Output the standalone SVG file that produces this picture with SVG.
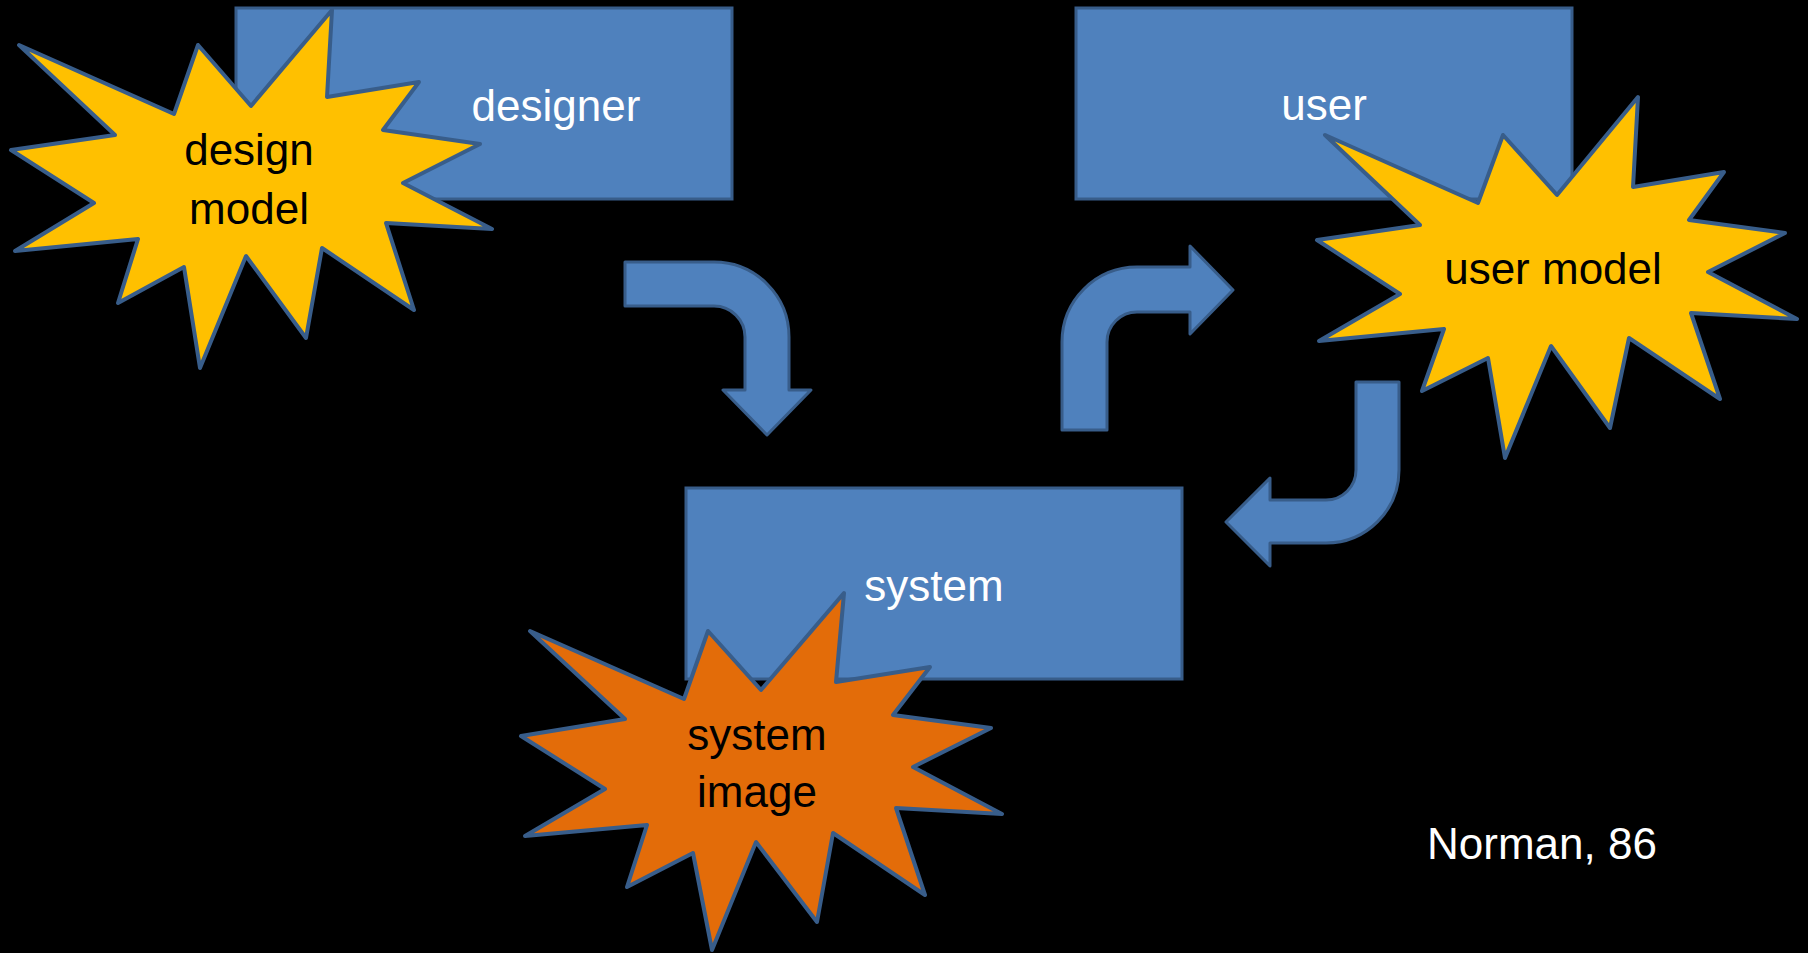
<svg xmlns="http://www.w3.org/2000/svg" width="1808" height="953" viewBox="0 0 1808 953">
  <style>
    .box { fill: #4F81BD; stroke: #385D8A; stroke-width: 3; }
    .arrow { fill: #4F81BD; stroke: #385D8A; stroke-width: 3; stroke-linejoin: round; }
    .burst { stroke: #385D8A; stroke-width: 4; stroke-linejoin: round; }
    .yellow { fill: #FFC000; }
    .orange { fill: #E36C09; }
    text { font-family: "Liberation Sans", Arial, sans-serif; font-size: 44px; text-anchor: middle; }
    .light { fill: #FFFFFF; }
    .dark { fill: #000000; }
  </style>
  <rect x="0" y="0" width="1808" height="953" fill="#000000"/>

  <!-- connectors: bent block arrows -->
  <g id="connectors">
    <path id="arrow-designer-system" class="arrow" d="M 625 262 L 714 262 A 75 75 0 0 1 789 337 L 789 390 L 811 390 L 767 435 L 723 390 L 745 390 L 745 337 A 31 31 0 0 0 714 306 L 625 306 Z"/>
    <path id="arrow-system-user" class="arrow" d="M 1062 430 L 1062 342 A 75 75 0 0 1 1137 267 L 1190 267 L 1190 246 L 1233 290 L 1190 334 L 1190 312 L 1137 312 A 30 30 0 0 0 1107 342 L 1107 430 Z"/>
    <path id="arrow-user-system" class="arrow" d="M 1356 382 L 1399 382 L 1399 470 A 73 73 0 0 1 1326 543 L 1270 543 L 1270 566 L 1226 522 L 1270 478 L 1270 500 L 1326 500 A 30 30 0 0 0 1356 470 Z"/>
  </g>

  <!-- designer -->
  <g id="designer">
    <rect class="box" x="236" y="8" width="496" height="191"/>
    <text class="light" x="556" y="121">designer</text>
  </g>

  <!-- user -->
  <g id="user">
    <rect class="box" x="1076" y="8" width="496" height="191"/>
    <text class="light" x="1324" y="120">user</text>
  </g>

  <!-- system -->
  <g id="system">
    <rect class="box" x="686" y="488" width="496" height="191"/>
    <text class="light" x="934" y="601">system</text>
  </g>

  <!-- design model -->
  <g id="design-model">
    <polygon class="burst yellow" points="332,10 327,97 419,82 383,130 480,144 403,183 492,229 386,223 414,310 322,248 306,338 246,256 200,368 184,267 118,303 138,239 15,251 94,203 11,150 115,135 19,45 174,114 198,45 251,106"/>
    <text class="dark" x="249" y="165">design</text>
    <text class="dark" x="249" y="224">model</text>
  </g>

  <!-- user model -->
  <g id="user-model">
    <polygon class="burst yellow" points="1325,135 1478,203 1503,135 1557,195 1638,97 1633,187 1724,172 1689,220 1785,233 1708,272 1797,319 1691,313 1720,399 1629,338 1610,428 1551,346 1505,458 1488,358 1422,391 1444,329 1319,341 1400,294 1317,240 1420,225"/>
    <text class="dark" x="1553" y="284">user model</text>
  </g>

  <!-- system image -->
  <g id="system-image">
    <polygon class="burst orange" points="844,593 836,682 930,667 893,715 991,728 913,767 1002,814 896,808 925,895 833,833 817,922 756,842 712,950 693,853 627,887 647,825 525,836 605,789 521,736 625,719 530,631 684,699 708,631 761,690"/>
    <text class="dark" x="757" y="750">system</text>
    <text class="dark" x="757" y="807">image</text>
  </g>

  <!-- citation -->
  <g id="citation">
    <text class="light" x="1542" y="859">Norman, 86</text>
  </g>
</svg>
